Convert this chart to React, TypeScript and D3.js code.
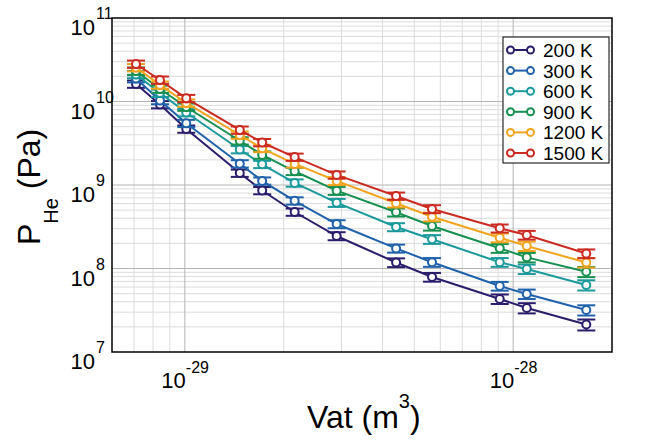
import React from "react";
import * as d3 from "d3";

// ---- data ----
const VAT = [7.1e-30, 8.4e-30, 1.01e-29, 1.47e-29, 1.72e-29, 2.16e-29, 2.9e-29, 4.4e-29, 5.66e-29, 9.1e-29, 1.1e-28, 1.67e-28];

const P200 = [1.62e10, 9.2e9, 4.69e9, 1.39e9, 8.6e8, 4.75e8, 2.45e8, 1.18e8, 7.9e7, 4.32e7, 3.37e7, 2.13e7];
const P300 = [1.88e10, 1.03e10, 5.48e9, 1.8e9, 1.12e9, 6.47e8, 3.41e8, 1.74e8, 1.19e8, 6.17e7, 4.95e7, 3.18e7];
const P600 = [2.11e10, 1.26e10, 7.38e9, 2.66e9, 1.77e9, 1.06e9, 6.14e8, 3.14e8, 2.24e8, 1.19e8, 9.86e7, 6.34e7];
const P900 = [2.32e10, 1.41e10, 8.59e9, 3.39e9, 2.29e9, 1.46e9, 8.55e8, 4.71e8, 3.23e8, 1.75e8, 1.36e8, 9.16e7];
const P1200 = [2.55e10, 1.58e10, 9.6e9, 3.97e9, 2.75e9, 1.79e9, 1.12e9, 6.04e8, 4.17e8, 2.34e8, 1.86e8, 1.18e8];
const P1500 = [2.81e10, 1.81e10, 1.09e10, 4.56e9, 3.23e9, 2.16e9, 1.32e9, 7.38e8, 5.16e8, 3.03e8, 2.52e8, 1.51e8];

// relative errors (%)
const E200 = [10, 10, 10, 10, 10, 10, 11, 12, 12, 13, 14, 15];
const E300 = [10, 10, 10, 10, 10, 10, 11, 11, 12, 12, 13, 14];
const E600 = [10, 10, 10, 10, 10, 10, 11, 11, 12, 12, 13, 14];
const E900 = [10, 10, 10, 10, 10, 10, 11, 11, 12, 12, 13, 14];
const E1200 = [10, 10, 10, 10, 10, 10, 11, 11, 12, 12, 13, 13];
const E1500 = [10, 10, 10, 10, 10, 10, 10, 10, 11, 11, 12, 12];

const LABELS = ["200 K", "300 K", "600 K", "900 K", "1200 K", "1500 K"];
const COLORS = ["#2b1d6c", "#1f62ab", "#1b999c", "#17904f", "#f2a31c", "#cc2a21"];

const X_TICKS = [1e-29, 1e-28];
const X_TICK_EXP = ["-29", "-28"];
const Y_TICKS = [1e7, 1e8, 1e9, 1e10, 1e11];
const Y_TICK_EXP = ["7", "8", "9", "10", "11"];

const SERIES = [
  { label: LABELS[0], color: COLORS[0], p: P200, e: E200 },
  { label: LABELS[1], color: COLORS[1], p: P300, e: E300 },
  { label: LABELS[2], color: COLORS[2], p: P600, e: E600 },
  { label: LABELS[3], color: COLORS[3], p: P900, e: E900 },
  { label: LABELS[4], color: COLORS[4], p: P1200, e: E1200 },
  { label: LABELS[5], color: COLORS[5], p: P1500, e: E1500 },
];

const W = 646;
const H = 441;
const L = 112, R = 612, T = 18, B = 352;
const FONT = "'Liberation Sans', Arial, Helvetica, sans-serif";

export default function App() {
  const x = d3.scaleLog().domain([6e-30, 2e-28]).range([L, R]);
  const y = d3.scaleLog().domain([1e7, 1e11]).range([B, T]);

  // grid values
  const xMinor: number[] = [];
  for (let d = -30; d <= -28; d++) {
    for (let k = 1; k <= 9; k++) {
      const v = k * Math.pow(10, d);
      const px = x(v);
      if (px > L + 0.5 && px < R - 0.5 && k !== 1) xMinor.push(v);
    }
  }
  const yMinor: number[] = [];
  for (let d = 7; d <= 10; d++) {
    for (let k = 2; k <= 9; k++) yMinor.push(k * Math.pow(10, d));
  }

  const line = d3
    .line<number>()
    .x((_, i) => x(VAT[i]))
    .y((d) => y(d));

  const capW = 9;
  const r = 4;

  return (
    <svg
      width={W}
      height={H}
      style={{ position: "absolute", left: 0, top: 0, background: "#fff" }}
      fontFamily={FONT}
    >
      <rect x={0} y={0} width={W} height={H} fill="#fff" />
      {/* minor grid */}
      {xMinor.map((v, i) => (
        <line key={"xm" + i} x1={x(v)} x2={x(v)} y1={T} y2={B} stroke="#dcdcdc" strokeWidth={1} />
      ))}
      {yMinor.map((v, i) => (
        <line key={"ym" + i} x1={L} x2={R} y1={y(v)} y2={y(v)} stroke="#dcdcdc" strokeWidth={1} />
      ))}
      {/* major grid */}
      {X_TICKS.map((v, i) => (
        <line key={"xM" + i} x1={x(v)} x2={x(v)} y1={T} y2={B} stroke="#b4b4b4" strokeWidth={1} />
      ))}
      {Y_TICKS.slice(1, -1).map((v, i) => (
        <line key={"yM" + i} x1={L} x2={R} y1={y(v)} y2={y(v)} stroke="#b4b4b4" strokeWidth={1} />
      ))}

      {/* series */}
      {SERIES.map((s, si) => (
        <g key={"s" + si}>
          <path d={line(s.p) || ""} fill="none" stroke={s.color} strokeWidth={2} />
          {s.p.map((v, i) => {
            const cx = x(VAT[i]);
            const f = s.e[i] / 100;
            const yt = y(v * (1 + f));
            const yb = y(v * (1 - f));
            return (
              <g key={i} stroke={s.color} strokeWidth={2}>
                <line x1={cx} x2={cx} y1={yt} y2={yb} />
                <line x1={cx - capW} x2={cx + capW} y1={yt} y2={yt} />
                <line x1={cx - capW} x2={cx + capW} y1={yb} y2={yb} />
              </g>
            );
          })}
          {s.p.map((v, i) => (
            <circle key={"c" + i} cx={x(VAT[i])} cy={y(v)} r={r} fill="#fff" stroke={s.color} strokeWidth={2} />
          ))}
        </g>
      ))}

      {/* frame */}
      <rect x={L} y={T} width={R - L} height={B - T} fill="none" stroke="#000" strokeWidth={1.5} />

      {/* x tick labels */}
      {X_TICKS.map((v, i) => (
        <g key={"xt" + i}>
          <text x={x(v) + 1} y={B + 36} fontSize={22} textAnchor="end" fill="#000">10</text>
          <text x={x(v) + 1} y={B + 21} fontSize={16} textAnchor="start" fill="#000">{X_TICK_EXP[i]}</text>
        </g>
      ))}
      {/* y tick labels */}
      {Y_TICKS.map((v, i) => (
        <g key={"yt" + i}>
          <text x={95} y={y(v) + 17} fontSize={22} textAnchor="end" fill="#000">10</text>
          <text x={96} y={y(v) + 1} fontSize={16} textAnchor="start" fill="#000">{Y_TICK_EXP[i]}</text>
        </g>
      ))}

      {/* axis labels */}
      <text x={307} y={428} fontSize={32} fill="#000">
        Vat (m
        <tspan fontSize={20} dy={-20}>3</tspan>
        <tspan dy={20}>)</tspan>
      </text>
      <text transform="translate(40,245) rotate(-90)" fontSize={32} fill="#000">
        P
        <tspan fontSize={20} dy={17.5}>He</tspan>
        <tspan dy={-17.5}> (Pa)</tspan>
      </text>

      {/* legend */}
      <rect x={503} y={37} width={106} height={126} fill="#fff" stroke="#000" strokeWidth={1} />
      {SERIES.map((s, i) => {
        const ly = 50 + i * 20.6;
        return (
          <g key={"lg" + i}>
            <line x1={508} x2={533} y1={ly} y2={ly} stroke={s.color} strokeWidth={2} />
            <circle cx={510.5} cy={ly} r={3.5} fill="#fff" stroke={s.color} strokeWidth={2} />
            <circle cx={530.5} cy={ly} r={3.5} fill="#fff" stroke={s.color} strokeWidth={2} />
            <text x={543} y={ly + 7} fontSize={19} fill="#000">{s.label}</text>
          </g>
        );
      })}
    </svg>
  );
}
